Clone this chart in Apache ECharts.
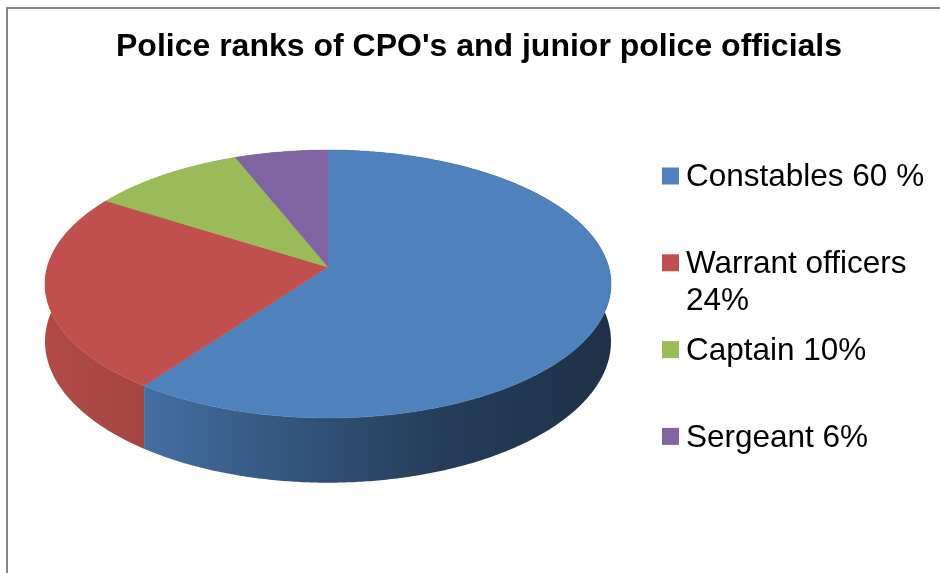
<!DOCTYPE html>
<html>
<head>
<meta charset="utf-8">
<script src="https://cdn.jsdelivr.net/npm/echarts@6/dist/echarts.min.js"></script>
<style>
  html, body { margin: 0; padding: 0; background: #ffffff; }
  #chart { width: 940px; height: 573px; }
</style>
</head>
<body>
<div id="chart"></div>
<script>
// Police ranks breakdown
const categories = ['Constables', 'Warrant officers', 'Captain', 'Sergeant'];
const shares = [60, 24, 10, 6];
const legendLabels = ['Constables 60 %', 'Warrant officers\n24%', 'Captain 10%', 'Sergeant 6%'];
const sliceColors = ['#4F81BD', '#C0504D', '#9BBB59', '#8064A2'];
const titleText = "Police ranks of CPO's and junior police officials";

// Tilted-disc geometry (perspective projection of a flat cylinder)
const disc = {
  cx: 328, cy: 267,     // apex of the slices (disc centre)
  rx: 280.7, ry: 131.8, // projected radii
  persp: 0.127,         // perspective strength (front looks larger)
  depth: 56.5           // thickness of the disc
};

const total = shares.reduce((a, b) => a + b, 0);
const starts = [];
shares.reduce((acc, v, i) => { starts[i] = acc; return acc + v; }, 0);
const seriesData = shares.map((v, i) => ({ name: categories[i], value: [v, starts[i]] }));

function project(theta, drop) {
  const u = Math.sin(theta);
  const v = -Math.cos(theta);
  const s = 1 / (1 - disc.persp * v);
  return [disc.cx + disc.rx * u * s, disc.cy + (disc.ry * v + drop) * s];
}

function rim(t1, t2, drop) {
  const pts = [];
  const n = Math.max(2, Math.ceil((t2 - t1) / (Math.PI / 360)));
  for (let k = 0; k <= n; k++) {
    pts.push(project(t1 + (t2 - t1) * k / n, drop));
  }
  return pts;
}

function shade(hex, f) {
  const r = parseInt(hex.slice(1, 3), 16), g = parseInt(hex.slice(3, 5), 16), b = parseInt(hex.slice(5, 7), 16);
  return 'rgb(' + Math.round(r * f) + ',' + Math.round(g * f) + ',' + Math.round(b * f) + ')';
}

function angles(api) {
  const val = api.value(0), start = api.value(1);
  return [start / total * Math.PI * 2, (start + val) / total * Math.PI * 2];
}

// Outer wall of each slice, lit from the left
function renderSide(params, api) {
  const [t1, t2] = angles(api);
  const top = rim(t1, t2, 0);
  const bottom = rim(t1, t2, disc.depth).reverse();
  const base = sliceColors[params.dataIndex];
  const left = disc.cx - disc.rx * 1.01, right = disc.cx + disc.rx * 1.01;
  return {
    type: 'polygon',
    shape: { points: top.concat(bottom) },
    style: {
      fill: {
        type: 'linear', global: true,
        x: left, y: 0, x2: right, y2: 0,
        colorStops: [
          { offset: 0, color: shade(base, 0.92) },
          { offset: 0.19, color: shade(base, 0.85) },
          { offset: 0.38, color: shade(base, 0.7) },
          { offset: 0.7, color: shade(base, 0.47) },
          { offset: 1, color: shade(base, 0.38) }
        ]
      }
    }
  };
}

// Top face of each slice
function renderTop(params, api) {
  const [t1, t2] = angles(api);
  const pts = [[disc.cx, disc.cy]].concat(rim(t1, t2, 0));
  const base = sliceColors[params.dataIndex];
  return {
    type: 'polygon',
    shape: { points: pts },
    style: { fill: base, stroke: base, lineWidth: 0.5 }
  };
}

// Legend entries
const legendGraphics = [];
const legendTop = 176, legendStep = 86.8;
legendLabels.forEach((label, i) => {
  const cy = legendTop + i * legendStep;
  legendGraphics.push({
    type: 'rect', silent: true,
    shape: { x: 662, y: cy - 8.5, width: 17, height: 17 },
    style: { fill: sliceColors[i] }
  });
  legendGraphics.push({
    type: 'text', silent: true,
    x: 686, y: cy - 17,
    style: {
      text: label,
      font: '31.5px "Liberation Sans", Arial, sans-serif',
      fill: '#000000',
      textVerticalAlign: 'top',
      verticalAlign: 'top',
      lineHeight: 37
    }
  });
});

const chart = echarts.init(document.getElementById('chart'), null, { renderer: 'canvas' });
chart.setOption({
  animation: false,
  backgroundColor: '#ffffff',
  graphic: [
    {
      type: 'rect', silent: true,
      shape: { x: 7, y: 8, width: 1200, height: 1000 },
      style: { fill: 'none', stroke: '#868686', lineWidth: 2 }
    },
    {
      type: 'text', silent: true,
      x: 479, y: 47,
      style: {
        text: titleText,
        font: 'bold 32px "Liberation Sans", Arial, sans-serif',
        fill: '#000000',
        textAlign: 'center',
        align: 'center',
        textVerticalAlign: 'middle',
        verticalAlign: 'middle'
      }
    }
  ].concat(legendGraphics),
  series: [
    {
      type: 'custom', name: 'wall', coordinateSystem: 'none',
      silent: true, z: 1,
      renderItem: renderSide,
      data: seriesData
    },
    {
      type: 'custom', name: 'face', coordinateSystem: 'none',
      silent: true, z: 2,
      renderItem: renderTop,
      data: seriesData
    }
  ]
});
</script>
</body>
</html>
